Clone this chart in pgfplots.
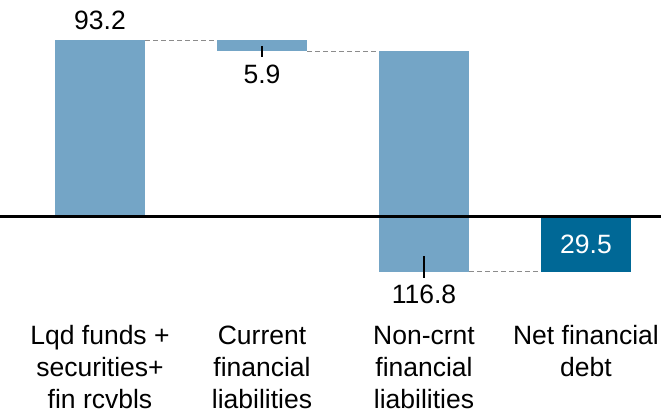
\documentclass[border=0pt]{standalone}
\usepackage{pgfplots}
\pgfplotsset{compat=1.18}
\usepackage{fontspec}
\setmainfont{Liberation Sans}
\definecolor{lightbar}{HTML}{74A5C6}
\definecolor{darkbar}{HTML}{006896}
\definecolor{dashgray}{HTML}{8C8C8C}
\begin{document}
\begin{tikzpicture}
\newcommand{\bigfont}{\fontsize{26.5bp}{32bp}\selectfont}
\begin{axis}[
  scale only axis,
  width=661bp, height=254.88bp,
  xmin=-0.6173, xmax=3.4630,
  ymin=-35, ymax=100,
  clip=false,
  axis line style={draw=none},
  tick style={draw=none},
  ytick=\empty,
  xtick={0,1,2,3},
  xticklabels={{Lqd funds +\\securities+\\fin rcvbls},{Current\\financial\\liabilities},{Non-crnt\\financial\\liabilities},{Net financial\\debt}},
  xticklabel style={anchor=north, align=center, font=\bigfont, inner sep=0pt, yshift=-43.5bp},
]
% bars: (start, end) per category, drawn as floating rectangles
% Lqd funds: 0 -> 93.2
\addplot[draw=none, fill=lightbar] coordinates {(-0.2778,0) (0.2778,0) (0.2778,93.2) (-0.2778,93.2)} -- cycle;
% Current financial liabilities: 93.2 -> 87.3 (5.9)
\addplot[draw=none, fill=lightbar] coordinates {(0.7222,87.3) (1.2778,87.3) (1.2778,93.2) (0.7222,93.2)} -- cycle;
% Non-current financial liabilities: 87.3 -> -29.5 (116.8)
\addplot[draw=none, fill=lightbar] coordinates {(1.7222,-29.5) (2.2778,-29.5) (2.2778,87.3) (1.7222,87.3)} -- cycle;
% Net financial debt: 0 -> -29.5
\addplot[draw=none, fill=darkbar] coordinates {(2.7222,-29.5) (3.2778,-29.5) (3.2778,0) (2.7222,0)} -- cycle;
% baseline
\addplot[black, line width=3bp, mark=none] coordinates {(-0.6173,0) (3.4630,0)};
% connectors
\addplot[dashgray, line width=1bp, dash pattern=on 5bp off 3bp, mark=none] coordinates {(0.2778,93.2) (0.7222,93.2)};
\addplot[dashgray, line width=1bp, dash pattern=on 5bp off 3bp, mark=none] coordinates {(1.2778,87.3) (1.7222,87.3)};
\addplot[dashgray, line width=1bp, dash pattern=on 5bp off 3bp, mark=none] coordinates {(2.2778,-29.5) (2.7222,-29.5)};
% label ticks
\addplot[black, line width=2bp, mark=none] coordinates {(1,90.0) (1,84.2)};
\addplot[black, line width=2bp, mark=none] coordinates {(2,-21.2) (2,-32.8)};
% value labels
\node[anchor=base, font=\bigfont, inner sep=0pt] at (axis cs:0,98.76) {93.2};
\node[anchor=base, font=\bigfont, inner sep=0pt] at (axis cs:1,70.35) {5.9};
\node[anchor=base, font=\bigfont, inner sep=0pt] at (axis cs:2,-46.6) {116.8};
\node[anchor=center, font=\bigfont, inner sep=0pt, text=white] at (axis cs:3,-15.0) {29.5};
\coordinate (bbtl) at (axis cs:-0.6173,114.41);
\coordinate (bbbr) at (axis cs:3.4630,-104.87);
\end{axis}
\pgfresetboundingbox
\path (bbtl) rectangle (bbbr);
\end{tikzpicture}
\end{document}
